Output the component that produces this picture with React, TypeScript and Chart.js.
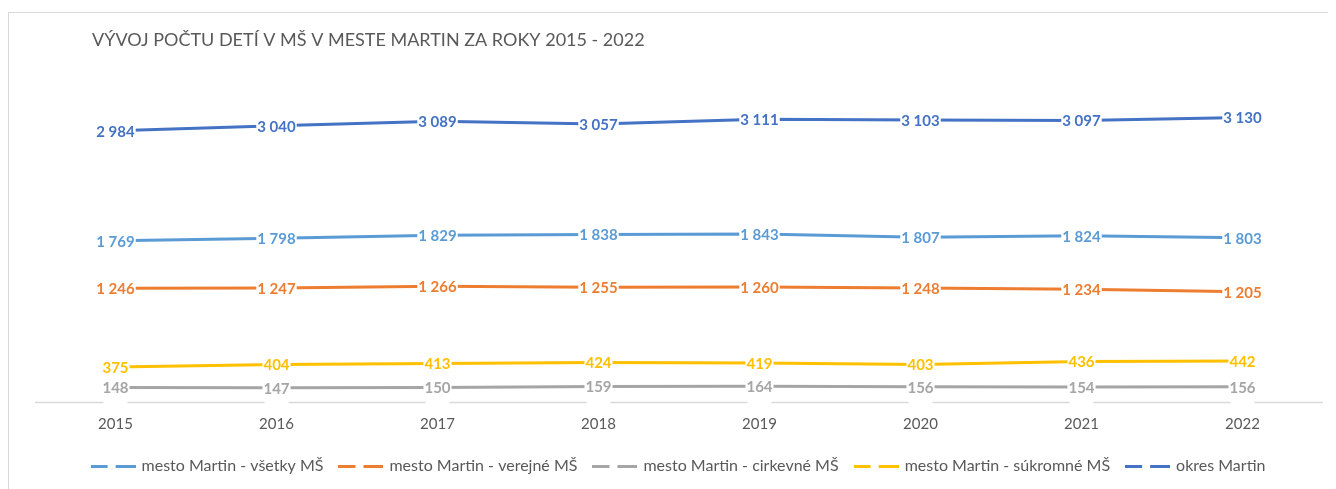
import React, { useEffect, useRef } from 'react';
import { Chart, registerables } from 'chart.js';

Chart.register(...registerables);

const TITLE = 'VÝVOJ POČTU DETÍ V MŠ V MESTE MARTIN ZA ROKY 2015 - 2022';
const years = ['2015', '2016', '2017', '2018', '2019', '2020', '2021', '2022'];
const seriesNames = [
  'mesto Martin - všetky MŠ',
  'mesto Martin - verejné MŠ',
  'mesto Martin - cirkevné MŠ',
  'mesto Martin - súkromné MŠ',
  'okres Martin',
];
const vsetky = [1769, 1798, 1829, 1838, 1843, 1807, 1824, 1803];
const verejne = [1246, 1247, 1266, 1255, 1260, 1248, 1234, 1205];
const cirkevne = [148, 147, 150, 159, 164, 156, 154, 156];
const sukromne = [375, 404, 413, 424, 419, 403, 436, 442];
const okres = [2984, 3040, 3089, 3057, 3111, 3103, 3097, 3130];
const seriesColors = ['#5B9BD5', '#ED7D31', '#A5A5A5', '#FFC000', '#4472C4'];

const FONT = 'Lato, "Open Sans", sans-serif';
const TEXT_GRAY = '#595959';
const AXIS_GRAY = '#D9D9D9';

const fmt = (v: number) => String(v).replace(/\B(?=(\d{3})+(?!\d))/g, ' ');

function makeDash(color: string): HTMLCanvasElement {
  const c = document.createElement('canvas');
  c.width = 45;
  c.height = 4;
  const g = c.getContext('2d')!;
  g.fillStyle = color;
  g.fillRect(0, 1, 17, 3);
  g.fillRect(25, 1, 20, 3);
  return c;
}

const titlePlugin = {
  id: 'leftTitle',
  afterDraw(chart: any) {
    const ctx = chart.ctx;
    ctx.save();
    ctx.font = `18px ${FONT}`;
    ctx.fillStyle = TEXT_GRAY;
    ctx.textAlign = 'left';
    ctx.textBaseline = 'middle';
    ctx.fillText(TITLE, 84, 32);
    ctx.restore();
  },
};

// category axis line, interrupted under each category
const axisPlugin = {
  id: 'gappedAxis',
  beforeDatasetsDraw(chart: any) {
    const ctx = chart.ctx;
    const xs = chart.scales.x;
    const { left, right, bottom } = chart.chartArea;
    const y = Math.round(bottom) + 1.5;
    const gap = 12;
    const stops: number[] = [left];
    xs.ticks.forEach((_: any, i: number) => {
      const px = xs.getPixelForTick(i);
      stops.push(px - gap, px + gap);
    });
    stops.push(right);
    ctx.save();
    ctx.strokeStyle = AXIS_GRAY;
    ctx.lineWidth = 1.5;
    ctx.beginPath();
    for (let k = 0; k < stops.length; k += 2) {
      ctx.moveTo(stops[k], y);
      ctx.lineTo(stops[k + 1], y);
    }
    ctx.stroke();
    ctx.restore();
  },
};

const labelPlugin = {
  id: 'valueLabels',
  afterDatasetsDraw(chart: any) {
    const ctx = chart.ctx;
    ctx.save();
    ctx.font = `bold 15px ${FONT}`;
    ctx.textAlign = 'center';
    ctx.textBaseline = 'middle';
    chart.data.datasets.forEach((ds: any, di: number) => {
      const meta = chart.getDatasetMeta(di);
      meta.data.forEach((pt: any, i: number) => {
        const txt = fmt(ds.data[i]);
        const w = ctx.measureText(txt).width;
        ctx.fillStyle = '#fff';
        ctx.fillRect(pt.x - w / 2 - 1, pt.y - 7, w + 2, 15);
        ctx.fillStyle = ds.borderColor;
        ctx.fillText(txt, pt.x, pt.y + 1);
      });
    });
    ctx.restore();
  },
};

export default function App() {
  const ref = useRef<HTMLCanvasElement | null>(null);

  useEffect(() => {
    if (!ref.current) return;
    const seriesData = [vsetky, verejne, cirkevne, sukromne, okres];
    const chart = new Chart(ref.current, {
      type: 'line',
      data: {
        labels: years,
        datasets: seriesData.map((d, i) => ({
          label: seriesNames[i],
          data: d,
          borderColor: seriesColors[i],
          backgroundColor: seriesColors[i],
          borderWidth: 3,
          pointRadius: 0,
          pointHoverRadius: 0,
          tension: 0,
          fill: false,
        })),
      },
      options: {
        animation: false,
        responsive: false,
        maintainAspectRatio: false,
        layout: { padding: { top: 76, left: 27, right: 13, bottom: 5 } },
        scales: {
          x: {
            offset: true,
            grid: { display: false, drawTicks: false },
            border: { display: false },
            ticks: { color: TEXT_GRAY, font: { family: FONT, size: 15 }, padding: 14 },
            afterFit: (s: any) => {
              s.height -= 6;
            },
          },
          y: {
            display: false,
            min: 0,
            max: 3500,
          },
        },
        plugins: {
          title: { display: false },
          tooltip: { enabled: false },
          legend: {
            display: true,
            position: 'bottom',
            labels: {
              usePointStyle: true,
              pointStyleWidth: 41,
              padding: 17,
              color: TEXT_GRAY,
              font: { family: FONT, size: 16 },
              generateLabels: (ch: any) =>
                ch.data.datasets.map((ds: any, i: number) => ({
                  text: ds.label,
                  pointStyle: makeDash(ds.borderColor),
                  fillStyle: ds.borderColor,
                  strokeStyle: ds.borderColor,
                  lineWidth: 0,
                  hidden: false,
                  datasetIndex: i,
                  fontColor: TEXT_GRAY,
                })),
            },
          },
        },
      },
      plugins: [titlePlugin, axisPlugin, labelPlugin],
    });
    return () => chart.destroy();
  }, []);

  return (
    <div style={{ position: 'relative', width: 1328, height: 481 }}>
      <div
        style={{
          position: 'absolute',
          left: 0,
          top: 4,
          width: 1328,
          height: 477,
          borderLeft: '1px solid #D9D9D9',
          borderTop: '1px solid #D9D9D9',
          boxSizing: 'border-box',
        }}
      />
      <canvas
        ref={ref}
        width={1328}
        height={481}
        style={{ position: 'absolute', left: 0, top: 0, width: 1328, height: 481 }}
      />
    </div>
  );
}
